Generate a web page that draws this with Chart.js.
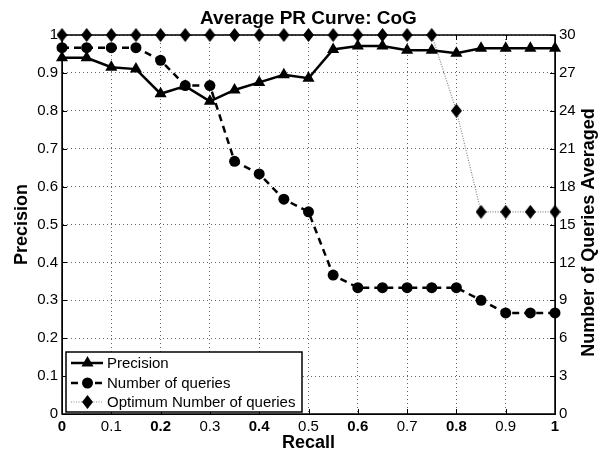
<!DOCTYPE html>
<html>
<head>
<meta charset="utf-8">
<title>Average PR Curve: CoG</title>
<script src="https://cdn.jsdelivr.net/npm/chart.js@4.4.0/dist/chart.umd.min.js"></script>
<style>
  html, body { margin: 0; padding: 0; background: #fff; }
  #wrap { width: 605px; height: 458px; }
</style>
</head>
<body>
<div id="wrap"><canvas id="pr-chart" width="605" height="458"></canvas></div>
<script>
// values
const recall = [0, 0.05, 0.1, 0.15, 0.2, 0.25, 0.3, 0.35, 0.4, 0.45, 0.5,
  0.55, 0.6, 0.65, 0.7, 0.75, 0.8, 0.85, 0.9, 0.95, 1];
const precision = [0.94, 0.94, 0.915, 0.91, 0.845, 0.865, 0.825, 0.855, 0.875, 0.895, 0.886,
  0.962, 0.971, 0.971, 0.96, 0.96, 0.952, 0.965, 0.965, 0.965, 0.965];
const queryCounts = [29, 29, 29, 29, 28, 26, 26, 20, 19, 17, 16,
  11, 10, 10, 10, 10, 10, 9, 8, 8, 8];
const optimumCounts = [30, 30, 30, 30, 30, 30, 30, 30, 30, 30, 30,
  30, 30, 30, 30, 30, 24, 16, 16, 16, 16];
const seriesLabels = ['Precision', 'Number of queries', 'Optimum Number of queries'];
const chartTitle = 'Average PR Curve: CoG';
const xTitle = 'Recall';
const yTitle = 'Precision';
const y1Title = 'Number of Queries Averaged';

const FONT = '"Liberation Sans", Arial, Helvetica, sans-serif';
const GRID_COLOR = 'rgba(0, 0, 0, 0.6)';

function toPoints(values) {
  return values.map((v, i) => ({ x: recall[i], y: v }));
}

// MATLAB style diamond is a bit taller than wide
function makeDiamond(w, h) {
  const c = document.createElement('canvas');
  c.width = w;
  c.height = h;
  const g = c.getContext('2d');
  g.fillStyle = '#000';
  g.beginPath();
  g.moveTo(w / 2, 0);
  g.lineTo(w, h / 2);
  g.lineTo(w / 2, h);
  g.lineTo(0, h / 2);
  g.closePath();
  g.fill();
  return c;
}
const diamond = makeDiamond(11, 14);

const matlabFrame = {
  id: 'matlabFrame',
  beforeDraw(chart) {
    const { ctx, width, height } = chart;
    ctx.save();
    ctx.fillStyle = '#fff';
    ctx.fillRect(0, 0, width, height);
    ctx.restore();
  },
  afterDatasetsDraw(chart) {
    const { ctx, chartArea: a, scales } = chart;
    ctx.save();

    // inward tick marks on all four sides
    ctx.strokeStyle = '#000';
    ctx.lineWidth = 1;
    ctx.beginPath();
    scales.x.ticks.forEach((t) => {
      const px = Math.round(scales.x.getPixelForValue(t.value)) + 0.5;
      ctx.moveTo(px, a.bottom);
      ctx.lineTo(px, a.bottom - 5);
      ctx.moveTo(px, a.top);
      ctx.lineTo(px, a.top + 5);
    });
    scales.y.ticks.forEach((t) => {
      const py = Math.round(scales.y.getPixelForValue(t.value)) + 0.5;
      ctx.moveTo(a.left, py);
      ctx.lineTo(a.left + 5, py);
    });
    scales.y1.ticks.forEach((t) => {
      const py = Math.round(scales.y1.getPixelForValue(t.value)) + 0.5;
      ctx.moveTo(a.right, py);
      ctx.lineTo(a.right - 5, py);
    });
    ctx.stroke();

    // box
    ctx.lineWidth = 1.5;
    ctx.strokeRect(a.left, a.top, a.right - a.left, a.bottom - a.top);

    // legend in the lower left corner
    const lx = a.left + 4;
    const ly = a.bottom - 62;
    const lw = 236;
    const lh = 60;
    ctx.fillStyle = '#fff';
    ctx.fillRect(lx, ly, lw, lh);
    ctx.lineWidth = 1.5;
    ctx.strokeStyle = '#000';
    ctx.strokeRect(lx, ly, lw, lh);

    const datasets = chart.data.datasets;
    const rowY = [ly + 11, ly + 31, ly + 50];
    datasets.forEach((ds, i) => {
      const y = rowY[i];
      ctx.save();
      ctx.strokeStyle = ds.borderColor;
      ctx.lineWidth = ds.borderWidth;
      ctx.setLineDash(ds.borderDash || []);
      ctx.beginPath();
      ctx.moveTo(lx + 5, y);
      ctx.lineTo(lx + 37, y);
      ctx.stroke();
      ctx.restore();

      ctx.fillStyle = '#000';
      ctx.strokeStyle = '#000';
      Chart.helpers.drawPoint(ctx, {
        pointStyle: ds.pointStyle,
        radius: ds.pointRadius,
        rotation: 0,
        borderWidth: 0,
      }, lx + 21.5, y);

      ctx.fillStyle = '#000';
      ctx.font = `15px ${FONT}`;
      ctx.textAlign = 'left';
      ctx.textBaseline = 'middle';
      ctx.fillText(ds.label, lx + 41, y + 1);
    });

    // chart title centred over the axes
    ctx.fillStyle = '#000';
    ctx.font = `bold 19px ${FONT}`;
    ctx.textAlign = 'center';
    ctx.textBaseline = 'alphabetic';
    ctx.fillText(chartTitle, (a.left + a.right) / 2, 24);

    // right axis title reads bottom to top, like the left one
    ctx.save();
    ctx.translate(589, (a.top + a.bottom) / 2 + 8);
    ctx.rotate(-Math.PI / 2);
    ctx.font = `bold 18px ${FONT}`;
    ctx.textBaseline = 'middle';
    ctx.fillText(y1Title, 0, 0);
    ctx.restore();

    ctx.restore();
  },
};

const tickLabel = (v) => String(Number(v.toFixed(1)));

new Chart(document.getElementById('pr-chart'), {
  type: 'line',
  data: {
    datasets: [
      {
        label: seriesLabels[0],
        data: toPoints(precision),
        yAxisID: 'y',
        borderColor: '#000',
        backgroundColor: '#000',
        borderWidth: 2.5,
        pointStyle: 'triangle',
        pointRadius: 7,
        pointBorderWidth: 0,
        clip: false,
      },
      {
        label: seriesLabels[1],
        data: toPoints(queryCounts),
        yAxisID: 'y1',
        borderColor: '#000',
        backgroundColor: '#000',
        borderWidth: 2.5,
        borderDash: [7, 5],
        pointStyle: 'circle',
        pointRadius: 5.5,
        pointBorderWidth: 0,
        clip: false,
      },
      {
        label: seriesLabels[2],
        data: toPoints(optimumCounts),
        yAxisID: 'y1',
        borderColor: '#888',
        backgroundColor: '#000',
        borderWidth: 1.2,
        borderDash: [1, 1.5],
        pointStyle: diamond,
        pointRadius: 7,
        pointBorderWidth: 0,
        clip: false,
      },
    ],
  },
  options: {
    responsive: false,
    animation: false,
    layout: { padding: { top: 35, left: 0, right: 0, bottom: 0 } },
    plugins: {
      legend: { display: false },
      tooltip: { enabled: false },
      title: { display: false },
    },
    elements: {
      line: { tension: 0 },
    },
    scales: {
      x: {
        type: 'linear',
        min: 0,
        max: 1,
        grid: { color: GRID_COLOR, drawTicks: false, lineWidth: 1 },
        border: { display: true, color: '#000', width: 1, dash: [1, 3] },
        ticks: {
          stepSize: 0.1,
          padding: 4,
          color: '#000',
          maxRotation: 0,
          callback: tickLabel,
          // MATLAB export renders every other label in bold
          font: (ctx) => ({ family: FONT, size: 15, weight: ctx.index % 2 === 0 ? 'bold' : 'normal' }),
        },
        title: {
          display: true,
          text: xTitle,
          color: '#000',
          font: { family: FONT, size: 18, weight: 'bold' },
          padding: { top: 0, bottom: 4 },
        },
        afterFit: (scale) => { scale.height = 44; },
      },
      y: {
        position: 'left',
        min: 0,
        max: 1,
        grid: { color: GRID_COLOR, drawTicks: false, lineWidth: 1 },
        border: { display: true, color: '#000', width: 1, dash: [1, 3] },
        ticks: {
          stepSize: 0.1,
          padding: 4,
          color: '#000',
          callback: tickLabel,
          font: { family: FONT, size: 15 },
        },
        title: {
          display: true,
          text: yTitle,
          color: '#000',
          font: { family: FONT, size: 18, weight: 'bold' },
          padding: { top: 11, bottom: 0 },
        },
        afterFit: (scale) => { scale.width = 62; },
      },
      y1: {
        position: 'right',
        min: 0,
        max: 30,
        grid: { display: false, drawTicks: false },
        border: { display: true, color: '#000', width: 1 },
        ticks: {
          stepSize: 3,
          padding: 4,
          color: '#000',
          font: { family: FONT, size: 15 },
        },
        afterFit: (scale) => { scale.width = 50; },
      },
    },
  },
  plugins: [matlabFrame],
});
</script>
</body>
</html>
